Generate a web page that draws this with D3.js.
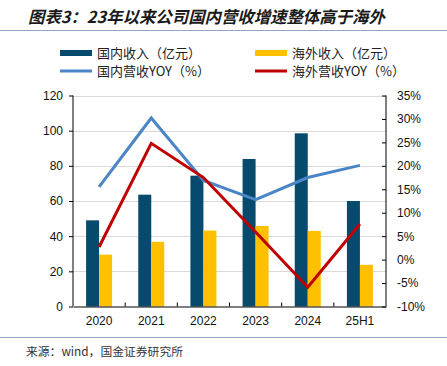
<!DOCTYPE html>
<html><head><meta charset="utf-8">
<script src="https://cdn.jsdelivr.net/npm/d3@7"></script>
<style>
body{margin:0;background:#fff;}
svg{display:block;font-family:"Liberation Sans",Arial,sans-serif;}
</style></head><body>
<svg id="c" width="447" height="366"></svg>
<script>
const categories = ["2020","2021","2022","2023","2024","25H1"];
const domesticRev = [49, 63.6, 74.4, 83.9, 98.5, 60];
const overseasRev = [29.5, 36.8, 43.2, 45.8, 43, 23.7];
const domesticYoY = [15.5, 30.2, 16.9, 12.8, 17.5, 20.1];
const overseasYoY = [2.7, 24.8, 17.5, 5.9, -5.9, 7.6];
const leftTicks = [0,20,40,60,80,100,120];
const rightTicks = [-10,-5,0,5,10,15,20,25,30,35];

const svg = d3.select("#c");
const L = 73, R = 386, T = 95.5, B = 306.5;
const x = d3.scaleBand().domain(categories).range([L, R]);
const yL = d3.scaleLinear().domain([0,120]).range([B, T]);
const yR = d3.scaleLinear().domain([-10,35]).range([B, T]);
const cjk = '"Noto Sans CJK SC","Liberation Sans",sans-serif';

// title
svg.append("text").attr("x",28).attr("y",23).text("图表3：23年以来公司国内营收增速整体高于海外")
  .attr("font-family",cjk).attr("font-size",16.4).attr("font-weight","bold").attr("font-style","italic")
  .attr("fill","#1a1a1a");
svg.append("line").attr("x1",0).attr("x2",447).attr("y1",30.5).attr("y2",30.5).attr("stroke","#8fa8bf").attr("stroke-width",1);
svg.append("line").attr("x1",0).attr("x2",447).attr("y1",337.5).attr("y2",337.5).attr("stroke","#8fa8bf").attr("stroke-width",1);
svg.append("text").attr("x",26).attr("y",356).text("来源：wind，国金证券研究所")
  .attr("font-family",cjk).attr("font-size",11.8).attr("fill","#333");

// legend
const legend = [
  {label:"国内收入（亿元）", color:"#064a6e", h:6, x:60, y:53},
  {label:"海外收入（亿元）", color:"#ffc000", h:6, x:255, y:53},
  {label:"国内营收YOY（%）", color:"#4a86c6", h:3, x:60, y:71},
  {label:"海外营收YOY（%）", color:"#c00000", h:3, x:255, y:71}
];
legend.forEach(d=>{
  svg.append("rect").attr("x",d.x).attr("y",d.y-d.h/2).attr("width",32).attr("height",d.h).attr("fill",d.color);
  svg.append("text").attr("x",d.x+37).attr("y",d.y+4.5).text(d.label)
    .attr("font-family",cjk).attr("font-size",13).attr("fill","#222");
});

// gridlines
svg.append("g").selectAll("line").data(leftTicks.filter(v=>v>0)).join("line")
  .attr("x1",L).attr("x2",R).attr("y1",d=>Math.round(yL(d))+0.5).attr("y2",d=>Math.round(yL(d))+0.5)
  .attr("stroke","#d9d9d9").attr("stroke-width",1);

// bars
const bw = 13;
svg.append("g").selectAll("rect").data(categories).join("rect")
  .attr("x",(d)=>x(d)+x.bandwidth()/2-bw).attr("width",bw)
  .attr("y",(d,i)=>yL(domesticRev[i])).attr("height",(d,i)=>B-yL(domesticRev[i]))
  .attr("fill","#064a6e");
svg.append("g").selectAll("rect").data(categories).join("rect")
  .attr("x",(d)=>x(d)+x.bandwidth()/2).attr("width",bw)
  .attr("y",(d,i)=>yL(overseasRev[i])).attr("height",(d,i)=>B-yL(overseasRev[i]))
  .attr("fill","#ffc000");

// lines
const cx = d=>x(d)+x.bandwidth()/2;
const mkLine = arr => d3.line().x((d,i)=>cx(categories[i])).y(d=>yR(d))(arr);
svg.append("path").attr("d",mkLine(domesticYoY)).attr("fill","none").attr("stroke","#4a86c6").attr("stroke-width",3);
svg.append("path").attr("d",mkLine(overseasYoY)).attr("fill","none").attr("stroke","#c00000").attr("stroke-width",3);

// axes
const gl = svg.append("g").attr("transform",`translate(${L},0)`)
  .call(d3.axisLeft(yL).tickValues(leftTicks).tickSize(4).tickPadding(6));
const gr = svg.append("g").attr("transform",`translate(${R},0)`)
  .call(d3.axisRight(yR).tickValues(rightTicks).tickFormat(d=>d+"%").tickSizeInner(-4).tickSizeOuter(0).tickPadding(11));
const gb = svg.append("g").attr("transform",`translate(0,${B})`)
  .call(d3.axisBottom(x).tickSize(0).tickPadding(10));
// band separator ticks on bottom axis
svg.append("g").selectAll("line").data(categories.slice(1)).join("line")
  .attr("x1",d=>x(d)).attr("x2",d=>x(d)).attr("y1",B).attr("y2",B-4).attr("stroke","#000");
[gl,gr,gb].forEach(g=>{
  g.selectAll("text").attr("font-size",12).attr("fill","#111").attr("font-family","'Liberation Sans',Arial,sans-serif");
  g.selectAll("path,line").attr("stroke","#000");
});
gr.select(".domain").attr("d",`M0,${T}V${B}`);
gl.select(".domain").attr("d",`M0,${T}V${B}`);
</script></body></html>
